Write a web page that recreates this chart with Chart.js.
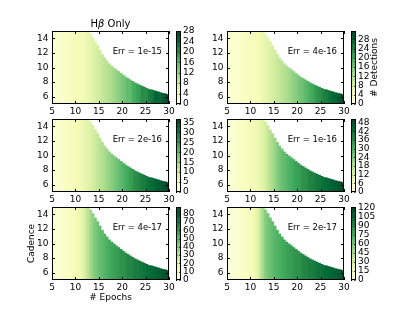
<!DOCTYPE html>
<html>
<head>
<meta charset="utf-8">
<script src="https://cdn.jsdelivr.net/npm/chart.js@4"></script>
<style>
html, body { margin: 0; padding: 0; background: #fff; }
#wrap { position: relative; width: 415px; height: 312px; overflow: hidden; }
#wrap canvas { position: absolute; left: 0; top: 0; }
</style>
</head>
<body>
<div id="wrap"></div>
<script>
// column centres (# epochs) and the largest cadence that still has a value
const epochs = [5.25, 5.75, 6.25, 6.75, 7.25, 7.75, 8.25, 8.75, 9.25, 9.75, 10.25, 10.75, 11.25, 11.75, 12.25, 12.75,
    13.25, 13.75, 14.25, 14.75, 15.25, 15.75, 16.25, 16.75, 17.25, 17.75, 18.25, 18.75, 19.25, 19.75, 20.25, 20.75,
    21.25, 21.75, 22.25, 22.75, 23.25, 23.75, 24.25, 24.75, 25.25, 25.75, 26.25, 26.75, 27.25, 27.75, 28.25, 28.75,
    29.25, 29.75];
const maxCadence = [15, 15, 15, 15, 15, 15, 15, 15, 15, 15, 15, 15, 15, 15, 15, 15,
    14.6, 14.1, 13.5, 13.0, 12.4, 11.8, 11.3, 10.9, 10.5, 10.2, 9.95, 9.7, 9.45, 9.2, 8.95, 8.7,
    8.5, 8.3, 8.1, 7.9, 7.75, 7.6, 7.45, 7.3, 7.15, 7.0, 6.95, 6.85, 6.75, 6.65, 6.55, 6.45,
    6.4, 6.3];
const cadenceMin = 5;

const xTicks = [5, 10, 15, 20, 25, 30];
const yTicks = [6, 8, 10, 12, 14];

// # detections per column, one array per panel
const det1 = [1.4, 1.7, 1.7, 2.0, 2.2, 2.5, 2.8, 2.8, 3.1, 3.4, 3.4, 3.6, 3.9, 4.2, 4.5, 5.0, 5.6, 6.2,
    6.7, 7.3, 7.8, 8.4, 9.0, 9.5, 10.1, 10.6, 11.2, 12.0, 12.6, 13.2, 14.0, 14.6, 15.4, 15.3, 16.8, 17.4,
    18.2, 18.8, 20.4, 20.2, 20.2, 21.6, 22.4, 23.2, 24.8, 24.6, 24.4, 25.8, 26.6, 27.4];
const det2 = [1.6, 1.6, 1.9, 2.2, 2.2, 2.5, 2.8, 3.2, 3.2, 3.5, 3.8, 3.8, 4.1, 4.4, 4.7, 5.4, 6.0, 6.6,
    7.3, 7.9, 8.5, 9.2, 9.8, 10.4, 11.1, 11.7, 12.3, 13.0, 13.9, 14.5, 15.2, 16.1, 16.7, 17.7, 18.3, 19.3,
    19.9, 20.9, 21.5, 22.4, 23.1, 24.0, 24.6, 25.6, 26.5, 27.2, 28.1, 28.8, 29.7, 30.7];
const det3 = [1.8, 2.2, 2.2, 2.6, 2.9, 3.3, 3.7, 4.0, 4.4, 4.8, 4.8, 5.1, 5.5, 6.2, 7.0, 7.7, 8.4, 9.5,
    10.3, 11.4, 12.1, 13.2, 13.9, 15.0, 15.8, 16.9, 17.6, 18.7, 19.5, 20.6, 21.3, 22.4, 23.1, 24.2, 25.0, 26.1,
    26.8, 27.5, 28.3, 29.0, 29.7, 30.5, 31.2, 31.9, 32.7, 33.4, 34.1, 34.5, 35.2, 36.0];
const det4 = [2.5, 2.5, 3.0, 3.5, 4.0, 4.5, 5.0, 5.0, 5.5, 6.0, 6.6, 7.1, 7.6, 8.6, 9.6, 11.1, 13.1, 15.1,
    17.1, 19.2, 21.2, 23.2, 25.2, 26.7, 27.7, 28.7, 29.7, 30.7, 31.8, 32.8, 33.3, 34.3, 35.3, 35.8, 36.8, 37.8,
    38.3, 39.3, 40.3, 40.8, 41.8, 42.3, 43.3, 43.8, 44.9, 45.4, 46.4, 46.9, 47.9, 48.9];
const det5 = [3.5, 4.4, 4.4, 5.3, 6.2, 7.0, 7.9, 8.8, 9.7, 10.6, 11.4, 13.2, 15.8, 19.4, 23.8, 29.0, 34.3, 38.7,
    42.2, 44.9, 47.5, 49.3, 51.0, 52.8, 54.6, 56.3, 57.2, 59.0, 59.8, 61.6, 62.5, 63.4, 65.1, 66.0, 66.9, 68.6,
    69.5, 70.4, 71.3, 73.0, 73.9, 74.8, 75.7, 77.4, 78.3, 79.2, 80.1, 81.8, 82.7, 84.5];
const det6 = [3.6, 4.8, 4.8, 6.1, 7.3, 8.5, 9.7, 10.9, 12.1, 13.3, 14.5, 16.9, 21.8, 29.0, 38.7, 48.4, 55.7, 60.5,
    64.1, 66.6, 69.0, 71.4, 72.6, 75.0, 76.2, 78.7, 79.9, 81.1, 83.5, 84.7, 85.9, 87.1, 89.5, 90.8, 92.0, 93.2,
    94.4, 96.8, 98.0, 99.2, 100.4, 101.6, 104.1, 105.3, 106.5, 107.7, 108.9, 111.3, 112.5, 115.0];

const errLabels = ['Err = 1e-15', 'Err = 4e-16', 'Err = 2e-16', 'Err = 1e-16', 'Err = 4e-17', 'Err = 2e-17'];

// colour bar ranges and ticks
const cbMax = [28, 31.6, 36.7, 50.4, 88, 121];
const cbTicks1 = [0, 4, 8, 12, 16, 20, 24, 28];
const cbTicks2 = [0, 4, 8, 12, 16, 20, 24, 28];
const cbTicks3 = [0, 5, 10, 15, 20, 25, 30, 35];
const cbTicks4 = [0, 6, 12, 18, 24, 30, 36, 42, 48];
const cbTicks5 = [0, 10, 20, 30, 40, 50, 60, 70, 80];
const cbTicks6 = [0, 15, 30, 45, 60, 75, 90, 105, 120];

const FONT = 'DejaVu Sans';
const W = 415, H = 312;

const YlGn = ['#ffffe5', '#f7fcb9', '#d9f0a3', '#addd8e', '#78c679', '#41ab5d', '#238443', '#006837', '#004529'];
const YlGnRgb = YlGn.map(h => [1, 3, 5].map(i => parseInt(h.substr(i, 2), 16)));
function cmap(f) {
    f = Math.max(0, Math.min(1, f));
    const p = f * (YlGnRgb.length - 1);
    const i = Math.min(Math.floor(p), YlGnRgb.length - 2);
    const t = p - i;
    const a = YlGnRgb[i], b = YlGnRgb[i + 1];
    return 'rgb(' + a.map((v, k) => Math.round(v + (b[k] - v) * t)).join(',') + ')';
}

const wrap = document.getElementById('wrap');
function newCanvas() {
    const c = document.createElement('canvas');
    c.width = W; c.height = H;
    c.style.width = W + 'px'; c.style.height = H + 'px';
    wrap.appendChild(c);
    return c.getContext('2d');
}

// frame, inward ticks and free text
const decor = {
    id: 'decor',
    afterDraw(chart, args, o) {
        const {ctx, chartArea: a, scales} = chart;
        ctx.save();
        ctx.strokeStyle = '#000';
        ctx.lineWidth = 1;
        ctx.beginPath();
        const tl = o.tick;
        if (o.xTicks) {
            o.xTicks.forEach(v => {
                const px = Math.round(scales.x.getPixelForValue(v)) + 0.5;
                ctx.moveTo(px, a.bottom); ctx.lineTo(px, a.bottom - tl);
                ctx.moveTo(px, a.top); ctx.lineTo(px, a.top + tl);
            });
        }
        o.yTicks.forEach(v => {
            const py = Math.round(scales.y.getPixelForValue(v)) + 0.5;
            ctx.moveTo(a.left, py); ctx.lineTo(a.left + tl, py);
            ctx.moveTo(a.right, py); ctx.lineTo(a.right - tl, py);
        });
        ctx.stroke();
        ctx.strokeRect(Math.round(a.left) + 0.5, Math.round(a.top) + 0.5,
            Math.round(a.right - a.left) - 1, Math.round(a.bottom - a.top) - 1);
        ctx.fillStyle = '#000';
        if (o.err) {
            ctx.font = '8.5px "' + FONT + '"';
            ctx.textAlign = 'right';
            ctx.textBaseline = 'middle';
            ctx.fillText(o.err, a.right - 7, a.top + 21);
        }
        if (o.title) {
            const cx = (a.left + a.right) / 2, cy = a.top - 7;
            const f1 = '10px "' + FONT + '"', f2 = 'italic 10px "' + FONT + '"';
            ctx.textBaseline = 'middle';
            ctx.textAlign = 'left';
            ctx.font = f1; const w1 = ctx.measureText('H').width, w3 = ctx.measureText(' Only').width;
            ctx.font = f2; const w2 = ctx.measureText('\u03b2').width;
            let x = cx - (w1 + w2 + w3) / 2;
            ctx.font = f1; ctx.fillText('H', x, cy); x += w1;
            ctx.font = f2; ctx.fillText('\u03b2', x, cy); x += w2;
            ctx.font = f1; ctx.fillText(' Only', x, cy);
        }
        if (o.sideLabel) {
            ctx.translate(o.sideLabel.x, (a.top + a.bottom) / 2);
            ctx.rotate(-Math.PI / 2);
            ctx.font = '9px "' + FONT + '"';
            ctx.textAlign = 'center';
            ctx.textBaseline = 'middle';
            ctx.fillText(o.sideLabel.text, 0, 0);
        }
        ctx.restore();
    }
};

function heatChart(rect, values, vmax, err, extra) {
    extra = extra || {};
    const yW = extra.yW || 20, xH = extra.xH || 14;
    const tickFont = {family: FONT, size: 9};
    return new Chart(newCanvas(), {
        type: 'bar',
        data: {
            datasets: [{
                data: epochs.map((e, i) => ({x: e, y: [cadenceMin, maxCadence[i]]})),
                backgroundColor: values.map(v => cmap(v / vmax)),
                borderWidth: 0,
                barPercentage: 1,
                categoryPercentage: 1
            }]
        },
        options: {
            responsive: false,
            animation: false,
            devicePixelRatio: 1,
            layout: {padding: {left: rect[0] - yW, top: rect[1], right: W - rect[2], bottom: H - rect[3] - xH}},
            scales: {
                x: {
                    type: 'linear', min: 5, max: 30, offset: false,
                    grid: {display: false, drawTicks: false},
                    border: {display: false},
                    ticks: {font: tickFont, color: '#000', padding: 2.5, maxRotation: 0, autoSkip: false},
                    afterBuildTicks: s => { s.ticks = xTicks.map(v => ({value: v})); },
                    afterFit: s => { s.height = xH; s.paddingLeft = 0; s.paddingRight = 0; },
                    title: extra.xTitle ? {display: true, text: extra.xTitle, font: {family: FONT, size: 9}, color: '#000', padding: {top: 0, bottom: 4}} : {display: false}
                },
                y: {
                    type: 'linear', min: 5, max: 15,
                    grid: {display: false, drawTicks: false},
                    border: {display: false},
                    ticks: {font: tickFont, color: '#000', padding: 3.5, autoSkip: false},
                    afterBuildTicks: s => { s.ticks = yTicks.map(v => ({value: v})); },
                    afterFit: s => { s.width = yW; s.paddingTop = 0; s.paddingBottom = 0; },
                    title: extra.yTitle ? {display: true, text: extra.yTitle, font: {family: FONT, size: 9}, color: '#000', padding: {top: 4, bottom: 0}} : {display: false}
                }
            },
            plugins: {
                legend: {display: false},
                tooltip: {enabled: false},
                decor: {tick: 3, xTicks: xTicks, yTicks: yTicks, err: err, title: extra.title}
            }
        },
        plugins: [decor]
    });
}

function colorBar(rect, vmax, ticks, sideLabel) {
    const step = (ticks[1] - ticks[0]) / 2;
    const bands = [];
    for (let lo = 0; lo < vmax; lo += step) bands.push([lo, Math.min(lo + step, vmax)]);
    const yW = 30;
    return new Chart(newCanvas(), {
        type: 'bar',
        data: {
            datasets: [{
                data: bands.map(b => ({x: 0, y: b})),
                backgroundColor: bands.map(b => cmap((b[0] + b[1]) / 2 / vmax)),
                borderWidth: 0,
                barThickness: 20
            }]
        },
        options: {
            responsive: false,
            animation: false,
            devicePixelRatio: 1,
            layout: {padding: {left: rect[0], top: rect[1], right: W - rect[2] - yW, bottom: H - rect[3]}},
            scales: {
                x: {type: 'linear', min: -1, max: 1, display: false},
                y: {
                    position: 'right', min: 0, max: vmax,
                    grid: {display: false, drawTicks: false},
                    border: {display: false},
                    ticks: {font: {family: FONT, size: 9}, color: '#000', padding: 2.5, autoSkip: false},
                    afterBuildTicks: s => { s.ticks = ticks.map(v => ({value: v})); },
                    afterFit: s => { s.width = yW; s.paddingTop = 0; s.paddingBottom = 0; }
                }
            },
            plugins: {
                legend: {display: false},
                tooltip: {enabled: false},
                decor: {tick: 1.2, yTicks: ticks, sideLabel: sideLabel}
            }
        },
        plugins: [decor]
    });
}

// plot areas: [left, top, right, bottom]
const rects = [[52, 31, 169, 104], [227, 31, 344, 104], [52, 119, 169, 192],
    [227, 119, 344, 192], [52, 207, 169, 280], [227, 207, 344, 280]];
const dets = [det1, det2, det3, det4, det5, det6];
const cbTicks = [cbTicks1, cbTicks2, cbTicks3, cbTicks4, cbTicks5, cbTicks6];

rects.forEach((r, i) => {
    const extra = {};
    if (i === 0) extra.title = true;
    if (i === 4) { extra.yTitle = 'Cadence'; extra.xTitle = '# Epochs'; extra.yW = 29.5; extra.xH = 27; }
    heatChart(r, dets[i], cbMax[i], errLabels[i], extra);
    const cb = [r[2] + 7, r[1], r[2] + 11.5, r[3]];
    colorBar(cb, cbMax[i], cbTicks[i], i === 1 ? {x: 375, text: '# Detections'} : null);
});
</script>
</body>
</html>
